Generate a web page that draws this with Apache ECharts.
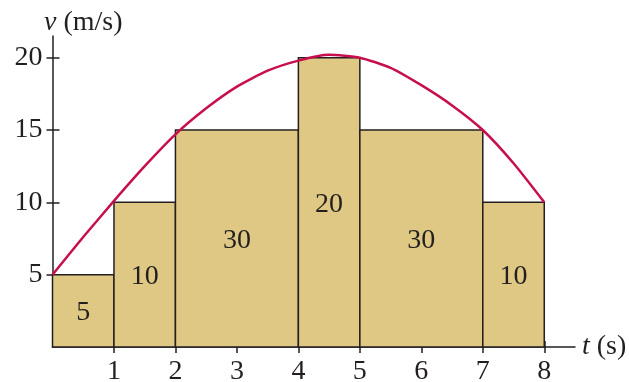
<!DOCTYPE html>
<html>
<head>
<meta charset="utf-8">
<script src="https://cdn.jsdelivr.net/npm/echarts@6/dist/echarts.min.js"></script>
<style>
  html, body { margin: 0; padding: 0; background: #fff; }
  #chart { width: 629px; height: 382px; }
</style>
</head>
<body>
<div id="chart"></div>
<script>
// Step approximation of v(t): each rectangle spans [tStart, tEnd] at a constant speed
const tStart = [0, 1, 2, 4, 5, 7];
const tEnd = [1, 2, 4, 5, 7, 8];
const speed = [5, 10, 15, 20, 15, 10];
const areaLabels = ['5', '10', '30', '20', '30', '10'];

// The smooth velocity curve, sampled every half second
const curveT = [0, 0.5, 1, 1.5, 2, 2.5, 3, 3.5, 4, 4.5, 5, 5.5, 6, 6.5, 7, 7.5, 8];
const curveV = [5, 7.6, 10.1, 12.5, 14.7, 16.5, 18.0, 19.1, 19.8, 20.2, 20.0, 19.3, 18.1, 16.7, 15.0, 12.7, 10];

// Tick labels
const xTicks = [1, 2, 3, 4, 5, 6, 7, 8];
const yTicks = [5, 10, 15, 20];

const FONT = '"Liberation Serif", "DejaVu Serif", serif';
const FS = 28;
const INK = '#231f20';

const chart = echarts.init(document.getElementById('chart'));

const stepData = tStart.map((s, i) => [s, tEnd[i], speed[i], areaLabels[i]]);

chart.setOption({
  animation: false,
  grid: { left: 52.5, right: 54, top: 36, bottom: 35, containLabel: false, outerBoundsMode: 'none' },
  xAxis: [
    {
      type: 'value', min: 0, max: 8.5,
      axisLine: { show: true, lineStyle: { color: INK, width: 1.5 } },
      axisTick: { show: true, customValues: xTicks, length: 6, lineStyle: { color: INK, width: 1.5 } },
      axisLabel: { customValues: xTicks, margin: 11, color: INK, fontFamily: FONT, fontSize: FS },
      splitLine: { show: false }
    },
    {
      type: 'value', min: 0, max: 8.5, position: 'bottom',
      axisLine: { show: false },
      axisTick: { show: true, inside: true, customValues: xTicks, length: 6, lineStyle: { color: INK, width: 1.5 } },
      axisLabel: { show: false },
      splitLine: { show: false }
    }
  ],
  yAxis: [
    {
      type: 'value', min: 0, max: 21.5,
      axisLine: { show: true, lineStyle: { color: INK, width: 1.5 } },
      axisTick: { show: true, customValues: yTicks, length: 6, lineStyle: { color: INK, width: 1.5 } },
      axisLabel: { customValues: yTicks, margin: 10, color: INK, fontFamily: FONT, fontSize: FS },
      splitLine: { show: false }
    },
    {
      type: 'value', min: 0, max: 21.5, position: 'left',
      axisLine: { show: false },
      axisTick: { show: true, inside: true, customValues: yTicks, length: 7, lineStyle: { color: INK, width: 1.5 } },
      axisLabel: { show: false },
      splitLine: { show: false }
    }
  ],
  graphic: [
    {
      type: 'text', x: 44, y: 23, z: 10,
      style: {
        text: '{i|v} (m/s)', font: FS + 'px ' + FONT, fill: INK, verticalAlign: 'middle',
        rich: { i: { fontStyle: 'italic', fontFamily: FONT, fontSize: FS, fill: INK } }
      }
    },
    {
      type: 'text', x: 582, y: 347, z: 10,
      style: {
        text: '{i|t} (s)', font: FS + 'px ' + FONT, fill: INK, verticalAlign: 'middle',
        rich: { i: { fontStyle: 'italic', fontFamily: FONT, fontSize: FS, fill: INK } }
      }
    }
  ],
  series: [
    {
      type: 'custom',
      data: stepData,
      z: 2,
      renderItem: function (params, api) {
        const p0 = api.coord([api.value(0), api.value(2)]);
        const p1 = api.coord([api.value(1), 0]);
        const cx = (p0[0] + p1[0]) / 2;
        const cy = (p0[1] + p1[1]) / 2;
        return {
          type: 'group',
          children: [
            {
              type: 'rect',
              shape: { x: p0[0], y: p0[1], width: p1[0] - p0[0], height: p1[1] - p0[1] },
              style: { fill: '#dfc884', stroke: INK, lineWidth: 1.5 }
            },
            {
              type: 'text',
              x: cx, y: cy + 2,
              style: {
                text: stepData[params.dataIndex][3],
                font: FS + 'px ' + FONT, fill: INK, align: 'center', verticalAlign: 'middle'
              }
            }
          ]
        };
      }
    },
    {
      type: 'line',
      data: curveT.map((t, i) => [t, curveV[i]]),
      smooth: 0.2,
      symbol: 'none',
      z: 5,
      lineStyle: { color: '#c70f4f', width: 2.5 }
    }
  ]
});
</script>
</body>
</html>
